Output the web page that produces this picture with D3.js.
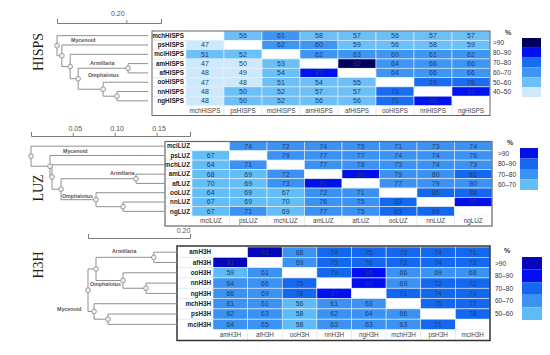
<!DOCTYPE html>
<html>
<head>
<meta charset="utf-8">
<style>
  body { margin: 0; background: #fff; }
  text { font-family: "Liberation Sans", Arial, sans-serif; }
  .treeAxis path, .treeAxis line { stroke: #7a7a7a; }
  .treeAxis text { fill: #555; font-size: 7px; }
</style>
<title>Percent identity heatmaps</title>
</head>
<body>
<script src="https://cdnjs.cloudflare.com/ajax/libs/d3/7.8.5/d3.min.js"></script>
<script>
// ---- HISPS ----
var hispsNames = ["mchHISPS", "psHISPS", "mciHISPS", "amHISPS", "afHISPS", "ooHISPS", "nnHISPS", "ngHISPS"];
var hispsValues = [
  [null, 56, 61, 58, 57, 56, 57, 57],
  [47, null, 62, 60, 59, 56, 58, 59],
  [51, 52, null, 62, 63, 60, 61, 62],
  [47, 49.7, 53, null, 92, 64, 66, 66],
  [48, 49, 54, 87, null, 64, 66, 66],
  [47, 48, 51, 54, 55, null, 79, 78],
  [48, 50, 52, 57, 57, 73, null, 88],
  [48, 50, 52, 56, 56, 71, 86, null]
];
var hispsBins = [">90", "80\u201390", "70\u201380", "60\u201370", "50\u201360", "40\u201350"];
var hispsColors = ["#00005e", "#0012ee", "#1a6cf0", "#3e95f2", "#6cbff7", "#cde9fb"];
var hispsCuts = [50, 60, 70, 80, 90];
// [node, parent, distance from root]
var hispsTree = [
  ["r", null, 0], ["mchHISPS", "r"], ["b", "r", 0.014], ["psHISPS", "b"],
  ["c", "b", 0.038], ["mciHISPS", "c"], ["d", "c", 0.061],
  ["e", "d", 0.205], ["amHISPS", "e"], ["afHISPS", "e"],
  ["f", "d", 0.133], ["ooHISPS", "f"], ["g", "f", 0.173], ["nnHISPS", "g"], ["ngHISPS", "g"]
];
var hispsLeafDist = 0.2625;

// ---- LUZ ----
var luzNames = ["mciLUZ", "psLUZ", "mchLUZ", "amLUZ", "afLUZ", "ooLUZ", "nnLUZ", "ngLUZ"];
var luzValues = [
  [null, 74, 72, 74, 75, 71, 73, 74],
  [67, null, 79, 77, 77, 74, 74, 76],
  [64, 71, null, 77, 78, 73, 74, 73],
  [68, 69, 72, null, 91, 79, 79.8, 81],
  [69.7, 69, 73, 90, null, 77, 79, 79.6],
  [64, 69, 67, 72, 71, null, 86, 88],
  [67, 69, 69.8, 76, 75, 83, null, 92],
  [67, 71, 69, 77, 75, 83, 89, null]
];
var luzBins = [">90", "80\u201390", "70\u201380", "60\u201370"];
var luzColors = ["#0010e6", "#1467ef", "#3c92f3", "#63bef8"];
var luzCuts = [70, 80, 90];
var luzTree = [
  ["r", null, 0], ["mciLUZ", "r"], ["b", "r", 0.0227], ["psLUZ", "b"],
  ["c", "b", 0.0251], ["mchLUZ", "c"], ["d", "c", 0.0359],
  ["e", "d", 0.1255], ["amLUZ", "e"], ["afLUZ", "e"],
  ["f", "d", 0.0777], ["ooLUZ", "f"], ["g", "f", 0.110], ["nnLUZ", "g"], ["ngLUZ", "g"]
];
var luzLeafDist = 0.160;

// ---- H3H ----
var h3hNames = ["amH3H", "afH3H", "ooH3H", "nnH3H", "ngH3H", "mchH3H", "psH3H", "mciH3H"];
var h3hValues = [
  [null, 91, 68, 74, 75, 72, 74, 71],
  [91, null, 69, 73, 76, 72, 74, 72],
  [59, 61, null, 79, 88, 66, 69, 68],
  [64, 66, 75, null, 88, 69, 72, 72],
  [66, 69, 78, 87, null, 71, 74, 74],
  [61, 61, 56, 61, 63, null, 75, 72],
  [62, 63, 58, 62, 64, 66, null, 78],
  [64, 65, 58, 63, 63, 63, 71, null]
];
var h3hBins = [">90", "80\u201390", "70\u201380", "60\u201370", "50\u201360"];
var h3hColors = ["#0606bc", "#0010f0", "#1468ef", "#3c92f3", "#5fbbf8"];
var h3hCuts = [60, 70, 80, 90];
var h3hTree = [
  ["r", null, 0], ["x", "r", 0.0157],
  ["e", "x", 0.129], ["amH3H", "e"], ["afH3H", "e"],
  ["o", "x", 0.0686], ["ooH3H", "o"], ["p", "o", 0.1137], ["nnH3H", "p"], ["ngH3H", "p"],
  ["y", "r", 0.0118], ["mchH3H", "y"], ["z", "y", 0.0392], ["psH3H", "z"], ["mciH3H", "z"]
];
var h3hLeafDist = 0.1745;

var svg = d3.select("body")
  .append("svg")
  .attr("width", 550)
  .attr("height", 355);

function drawPanel(p) {
  var g = svg.append("g");
  var n = p.names.length;

  // title
  g.append("text")
    .attr("transform", "translate(" + p.title[1] + "," + p.title[2] + ") rotate(-90)")
    .attr("text-anchor", "middle")
    .attr("dy", "0.35em")
    .style("font-family", "'Liberation Serif', 'Times New Roman', serif")
    .style("font-size", "14px")
    .style("fill", "#222")
    .text(p.title[0]);

  var xCell = d3.scaleBand().domain(p.names).range([p.cellX0, p.box[2]]);
  var yCell = d3.scaleBand().domain(p.names).range([p.rowY0, p.rowY1]);
  var color = d3.scaleThreshold().domain(p.cuts).range(p.colors.slice().reverse());

  // box
  g.append("rect")
    .attr("x", p.box[0]).attr("y", p.box[1])
    .attr("width", p.box[2] - p.box[0]).attr("height", p.box[3] - p.box[1])
    .style("fill", "#fff");

  var cells = [];
  p.values.forEach(function(row, i) {
    row.forEach(function(v, j) { cells.push({ r: p.names[i], c: p.names[j], v: v }); });
  });

  g.selectAll("rect.cell")
    .data(cells)
    .enter()
    .append("rect")
    .attr("class", "cell")
    .attr("x", function(d) { return xCell(d.c); })
    .attr("y", function(d) { return yCell(d.r); })
    .attr("width", xCell.bandwidth())
    .attr("height", yCell.bandwidth())
    .style("fill", function(d) { return d.v == null ? "#fff" : color(d.v); })
    .style("stroke", "#e6f1fb")
    .style("stroke-width", 0.6);

  g.selectAll("text.val")
    .data(cells.filter(function(d) { return d.v != null; }))
    .enter()
    .append("text")
    .attr("x", function(d) { return xCell(d.c) + xCell.bandwidth() / 2; })
    .attr("y", function(d) { return yCell(d.r) + yCell.bandwidth() / 2; })
    .attr("dy", "0.35em")
    .attr("text-anchor", "middle")
    .style("font-size", "7px")
    .style("fill", "#20406a")
    .text(function(d) { return d3.format(".0f")(d.v); });

  // row labels
  g.selectAll("line.rowsep")
    .data(p.names.slice(1))
    .enter()
    .append("line")
    .attr("x1", p.box[0]).attr("x2", p.cellX0)
    .attr("y1", function(d) { return yCell(d); })
    .attr("y2", function(d) { return yCell(d); })
    .style("stroke", "#c9def2").style("stroke-width", 0.6);

  g.selectAll("text.rowlab")
    .data(p.names)
    .enter()
    .append("text")
    .attr("x", p.cellX0 - 2)
    .attr("y", function(d) { return yCell(d) + yCell.bandwidth() / 2; })
    .attr("dy", "0.35em")
    .attr("text-anchor", "end")
    .style("font-size", "6.3px")
    .style("font-weight", "bold")
    .style("fill", "#222")
    .text(function(d) { return d; });

  // column labels
  g.selectAll("line.colsep")
    .data(p.names.slice(1))
    .enter()
    .append("line")
    .attr("x1", function(d) { return xCell(d); })
    .attr("x2", function(d) { return xCell(d); })
    .attr("y1", p.rowY1).attr("y2", p.box[3])
    .style("stroke", "#d8d8d8").style("stroke-width", 0.6);

  g.selectAll("text.collab")
    .data(p.names)
    .enter()
    .append("text")
    .attr("x", function(d) { return xCell(d) + xCell.bandwidth() / 2; })
    .attr("y", (p.rowY1 + p.box[3]) / 2)
    .attr("dy", "0.35em")
    .attr("text-anchor", "middle")
    .style("font-size", "6.3px")
    .style("fill", "#444")
    .text(function(d) { return d; });

  g.append("rect")
    .attr("x", p.box[0]).attr("y", p.box[1])
    .attr("width", p.box[2] - p.box[0]).attr("height", p.box[3] - p.box[1])
    .style("fill", "none")
    .style("stroke", p.boxStroke[0])
    .style("stroke-width", p.boxStroke[1]);

  // legend
  var lg = p.legend;
  g.append("text")
    .attr("x", lg.pctX).attr("y", lg.pctY).attr("dy", "0.35em")
    .style("font-size", "7px").style("font-weight", "bold").style("fill", "#333")
    .text("%");
  var ySw = d3.scaleBand().domain(p.bins).range([lg.y0, lg.y1]);
  g.selectAll("rect.sw")
    .data(p.bins)
    .enter()
    .append("rect")
    .attr("x", lg.swX)
    .attr("y", function(d) { return ySw(d); })
    .attr("width", lg.swW)
    .attr("height", ySw.bandwidth())
    .style("fill", function(d, i) { return p.colors[i]; });
  g.selectAll("text.lg")
    .data(p.bins)
    .enter()
    .append("text")
    .attr("x", lg.labX)
    .attr("y", function(d) { return ySw(d) + ySw.bandwidth() / 2; })
    .attr("dy", "0.35em")
    .style("font-size", "6.5px")
    .style("fill", "#333")
    .text(function(d) { return d; });

  // dendrogram
  var xTree = d3.scaleLinear().domain(p.treeDomain).range(p.treeRange);
  var root = d3.stratify()
    .id(function(d) { return d[0]; })
    .parentId(function(d) { return d[1]; })(p.tree);
  root.eachAfter(function(nd) {
    var dist = nd.children ? nd.data[2] : p.leafDist;
    nd.px = xTree(dist);
    if (nd.children) {
      var ys = nd.children.map(function(c) { return c.py; });
      nd.py = (d3.min(ys) + d3.max(ys)) / 2;
    } else {
      nd.py = yCell(nd.id) + yCell.bandwidth() / 2;
    }
  });
  var branches = root.descendants().filter(function(d) { return d.parent; });
  g.selectAll("line.hbr")
    .data(branches)
    .enter()
    .append("line")
    .attr("x1", function(d) { return d.parent.px; })
    .attr("x2", function(d) { return d.px; })
    .attr("y1", function(d) { return d.py; })
    .attr("y2", function(d) { return d.py; })
    .style("stroke", "#8f8f8f").style("stroke-width", 1);
  var inner = root.descendants().filter(function(d) { return d.children; });
  g.selectAll("line.vbr")
    .data(inner)
    .enter()
    .append("line")
    .attr("x1", function(d) { return d.px; })
    .attr("x2", function(d) { return d.px; })
    .attr("y1", function(d) { return d3.min(d.children, function(c) { return c.py; }); })
    .attr("y2", function(d) { return d3.max(d.children, function(c) { return c.py; }); })
    .style("stroke", "#8f8f8f").style("stroke-width", 1);
  g.selectAll("circle.node")
    .data(inner)
    .enter()
    .append("circle")
    .attr("cx", function(d) { return d.px; })
    .attr("cy", function(d) { return d.py; })
    .attr("r", 2.4)
    .style("fill", "#eeeeee")
    .style("stroke", "#888")
    .style("stroke-width", 0.8);

  g.selectAll("text.clade")
    .data(p.clades)
    .enter()
    .append("text")
    .attr("x", function(d) { return d[1]; })
    .attr("y", function(d) { return d[2]; })
    .attr("dy", "0.35em")
    .style("font-size", "5.3px")
    .style("font-weight", "bold")
    .style("fill", "#555")
    .text(function(d) { return d[0]; });

  // scale axis
  var axis = d3.axisTop(xTree)
    .tickValues(p.treeTicks)
    .tickFormat(d3.format(".2f"))
    .tickSize(3)
    .tickSizeOuter(4)
    .tickPadding(p.tickPad);
  var ag = g.append("g")
    .attr("class", "treeAxis")
    .attr("transform", "translate(0," + p.axisY + ")")
    .call(axis);
  ag.selectAll("text").attr("dx", p.tickDx);
}

drawPanel({
  title: ["HISPS", 38, 52],
  names: hispsNames, values: hispsValues, bins: hispsBins, colors: hispsColors, cuts: hispsCuts,
  box: [152, 31, 490, 115.5], cellX0: 186, rowY0: 31, rowY1: 105.5, boxStroke: ["#666", 1],
  legend: { pctX: 505, pctY: 33, labX: 493, swX: 522, swW: 19, y0: 38, y1: 97 },
  tree: hispsTree, leafDist: hispsLeafDist, treeDomain: [0, 0.30], treeRange: [57, 161],
  treeTicks: [0.20], axisY: 23, tickPad: 4, tickDx: -9,
  clades: [["Mycenoid", 71, 40], ["Armillaria", 90, 63], ["Omphalotus", 88, 75]]
});

drawPanel({
  title: ["LUZ", 38, 188],
  names: luzNames, values: luzValues, bins: luzBins, colors: luzColors, cuts: luzCuts,
  box: [165, 141.5, 492, 226], cellX0: 192, rowY0: 141.5, rowY1: 216, boxStroke: ["#666", 1.2],
  legend: { pctX: 507, pctY: 143, labX: 498, swX: 520, swW: 18, y0: 148, y1: 190 },
  tree: luzTree, leafDist: luzLeafDist, treeDomain: [0, 0.19], treeRange: [31, 190],
  treeTicks: [0.05, 0.10, 0.15], axisY: 136, tickPad: 2, tickDx: 2,
  clades: [["Mycenoid", 63, 151], ["Armillaria", 110, 173], ["Omphalotus", 62, 196]]
});

drawPanel({
  title: ["H3H", 38, 265],
  names: h3hNames, values: h3hValues, bins: h3hBins, colors: h3hColors, cuts: h3hCuts,
  box: [177, 246, 490, 340.5], cellX0: 213, rowY0: 247, rowY1: 329.5, boxStroke: ["#333", 1.5],
  legend: { pctX: 504, pctY: 251, labX: 495, swX: 522, swW: 20, y0: 257, y1: 320 },
  tree: h3hTree, leafDist: h3hLeafDist, treeDomain: [0, 0.20], treeRange: [88, 190],
  treeTicks: [0.20], axisY: 238, tickPad: 2, tickDx: -7,
  clades: [["Armillaria", 112, 251], ["Omphalotus", 90, 284], ["Mycenoid", 57, 309]]
});
</script>
</body>
</html>
